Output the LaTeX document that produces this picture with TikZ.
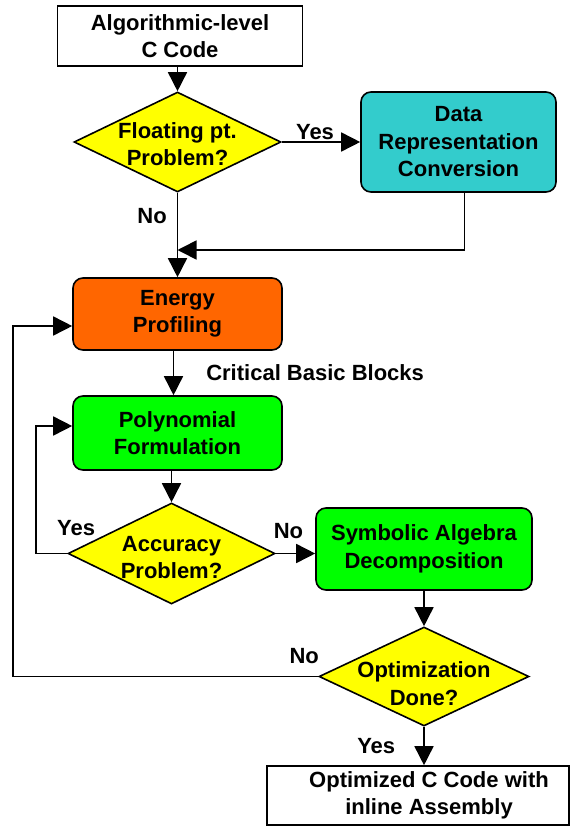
\documentclass[tikz,border=0pt]{standalone}
\usepackage{fontspec}
\setmainfont{Liberation Sans}
\usetikzlibrary{arrows.meta,positioning,shapes.geometric}
\definecolor{cyanbox}{HTML}{33CCCC}
\definecolor{orangebox}{HTML}{FF6600}
\definecolor{greenbox}{HTML}{00FF00}
\definecolor{yellowtest}{HTML}{FFFF00}

\begin{document}
\begin{tikzpicture}[x=1pt,y=-1pt,>={Triangle[length=19pt,width=19pt]},line width=1.6pt,
font=\fontsize{22}{27.5}\selectfont\bfseries,
term/.style={draw,align=center,fill=white,inner sep=0pt},
proc/.style={draw,rounded corners=10pt,align=center,inner sep=0pt},
test/.style={draw,diamond,fill=yellowtest,inner sep=0pt},
lbl/.style={inner sep=1pt}]
\useasboundingbox (0,0) rectangle (571,827);
% boxes and tests
\node[term,minimum width=245pt,minimum height=60pt] (code) at (180,36) {Algorithmic-level\\C Code};
\node[test,minimum width=207pt,minimum height=100pt,label={[align=center,yshift=-2pt]center:Floating pt.\\Problem?}] (fp) at (177.5,142) {};
\node[proc,fill=cyanbox,minimum width=195pt,minimum height=100pt] (drc) at (458.5,142) {Data\\Representation\\Conversion};
\node[proc,fill=orangebox,minimum width=209pt,minimum height=72pt] (ep) at (177.5,314) {Energy\\Profiling};
\node[proc,fill=greenbox,minimum width=209pt,minimum height=74pt] (pf) at (177.5,433) {Polynomial\\Formulation};
\node[test,minimum width=207pt,minimum height=101pt,label={[align=center,yshift=-4pt]center:Accuracy\\Problem?}] (acc) at (171.5,553.5) {};
\node[proc,fill=greenbox,minimum width=216pt,minimum height=82pt] (sad) at (424,549) {Symbolic Algebra\\Decomposition};
\node[test,minimum width=210pt,minimum height=99pt,label={[align=center,yshift=-7pt]center:Optimization\\Done?}] (opt) at (424,676.5) {};
\node[term,minimum width=302pt,minimum height=59pt] (out) at (418,795.5) {\hspace*{22pt}Optimized C Code with\\\hspace*{22pt}inline Assembly};
\coordinate (join) at (177.5,250);
\coordinate (lft) at (13,0);
% connectors
\draw[->] (fp.north |- code.south) -- (fp.north);
\draw[->] (fp.east) -- node[lbl,midway,above=0pt,xshift=-6pt] {Yes} (drc.west);
\draw[->] (fp.south) -- node[lbl,pos=0.28,left=9pt] {No} (ep.north);
\draw[->] ([xshift=6pt]drc.south) |- (join);
\draw[->] ([xshift=-4pt]ep.south) -- node[lbl,midway,right=31pt] {Critical Basic Blocks} ([xshift=-4pt]pf.north);
\draw[->] (acc.north |- pf.south) -- (acc.north);
\draw[->] (acc.east) -- node[lbl,midway,above=13pt,xshift=-7pt] {No} (acc.east -| sad.west);
\draw[->] (acc.west) -- ++(-31,0) |- ([yshift=7pt]pf.west);
\node[lbl] at ([shift={(9,-25)}]acc.west) {Yes};
\draw[->] (sad.south) -- (opt.north);
\draw[->] (opt.west) -- (opt.west -| lft) |- ([yshift=-12pt]ep.west);
\node[lbl] at ([shift={(-14,-20)}]opt.west) {No};
\draw[->] (opt.south) -- node[lbl,midway,left=27pt] {Yes} (opt.south |- out.north);
\end{tikzpicture}
\end{document}
